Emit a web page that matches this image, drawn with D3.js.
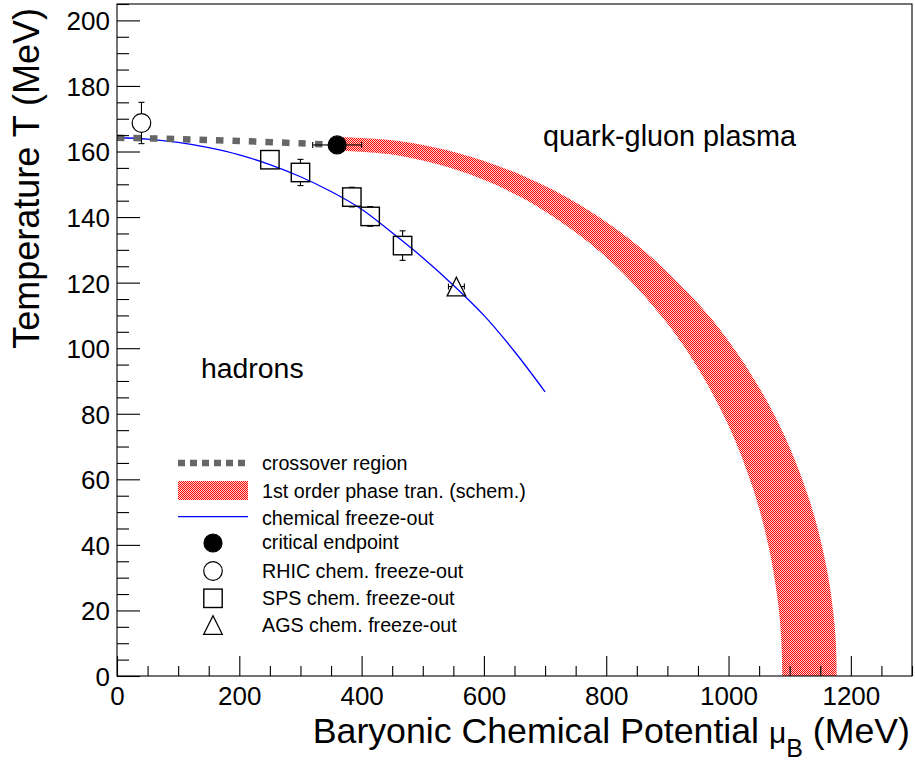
<!DOCTYPE html>
<html>
<head>
<meta charset="utf-8">
<script src="https://cdn.jsdelivr.net/npm/d3@7"></script>
<style>
  html, body { margin: 0; padding: 0; background: #fff; }
  svg { display: block; font-family: "Liberation Sans", Arial, Helvetica, sans-serif; }
</style>
</head>
<body>
<svg id="chart" width="915" height="764"></svg>
<script>
// ---- data (μ_B and T in MeV) ----
const xTickValues = [0, 200, 400, 600, 800, 1000, 1200];
const xTickLabels = ["0", "200", "400", "600", "800", "1000", "1200"];
const yTickValues = [0, 20, 40, 60, 80, 100, 120, 140, 160, 180, 200];
const yTickLabels = ["0", "20", "40", "60", "80", "100", "120", "140", "160", "180", "200"];

// crossover region (lattice), ends at the critical endpoint
const crossMu = [0, 100, 200, 300, 360];
const crossT  = [164.2, 163.8, 163.2, 162.5, 162];

// schematic first-order transition band: outer and inner edges
const bandOuterMu = [360, 460, 560, 660, 760, 860, 960, 1010, 1060, 1100, 1130, 1150, 1165, 1173, 1176, 1177];
const bandOuterT  = [164.4, 163.2, 159.4, 152.9, 143.4, 130.0, 111.6, 99.6, 84.8, 69.7, 54.9, 41.9, 28.1, 16.3, 8.1, 0];
const bandInnerMu = [360, 460, 560, 660, 760, 830, 900, 950, 1000, 1040, 1065, 1080, 1086, 1088];
const bandInnerT  = [160.3, 158.8, 154.1, 146.1, 133.9, 122.4, 107.5, 93.9, 76.4, 57.2, 40.0, 23.7, 11.9, 0];

// chemical freeze-out curve
const freezeMu = [0, 50, 100, 150, 200, 250, 300, 350, 400, 450, 500, 550, 600, 650, 700];
const freezeT  = [164.2, 163.8, 162.8, 161.2, 159, 156, 152.3, 147.8, 142.4, 135.2, 127.6, 119.2, 110, 99, 86.7];

// critical endpoint
const cepMu = [360], cepT = [162], cepMuErr = [40];
// RHIC chemical freeze-out
const rhicMu = [40], rhicT = [168.7], rhicTErr = [6.3];
// SPS chemical freeze-out
const spsMu = [250, 300, 384, 414, 467];
const spsT  = [157.5, 153.6, 146.1, 140.2, 131.3];
const spsTErr = [0, 4, 3, 3, 4.5];
// AGS chemical freeze-out
const agsMu = [555], agsT = [118.8], agsMuErr = [13];

// ---- layout ----
const svg = d3.select("#chart");
const L = 117, R = 912, T0 = 4, B = 676;
const x = d3.scaleLinear().domain([0, 1300]).range([L, R]);
const y = d3.scaleLinear().domain([0, 205]).range([B, T0]);

const defs = svg.append("defs");
const pat = defs.append("pattern").attr("id", "stipple")
  .attr("width", 2).attr("height", 2).attr("patternUnits", "userSpaceOnUse");
pat.append("rect").attr("width", 2).attr("height", 2).attr("fill", "#ffd2d2");
pat.append("rect").attr("width", 1).attr("height", 1).attr("fill", "#ff0000");
pat.append("rect").attr("x", 1).attr("y", 1).attr("width", 1).attr("height", 1).attr("fill", "#ff0000");

defs.append("clipPath").attr("id", "plotclip").append("rect")
  .attr("x", L).attr("y", T0).attr("width", R - L).attr("height", B - T0);

const plot = svg.append("g").attr("clip-path", "url(#plotclip)");

const zip = (a, b) => a.map((v, i) => [v, b[i]]);
const line = d3.line().x(d => x(d[0])).y(d => y(d[1])).curve(d3.curveCatmullRom.alpha(0.5));

// first-order band
const outerPts = zip(bandOuterMu, bandOuterT);
const innerPts = zip(bandInnerMu, bandInnerT).reverse();
const bandPath = line(outerPts) + "L" + line(innerPts).slice(1) + "Z";
plot.append("path").attr("d", bandPath).attr("fill", "url(#stipple)").attr("stroke", "none");

// freeze-out curve
plot.append("path").attr("d", line(zip(freezeMu, freezeT)))
  .attr("fill", "none").attr("stroke", "#0000ff").attr("stroke-width", 1.3);

// crossover
plot.append("path").attr("d", line(zip(crossMu, crossT)))
  .attr("fill", "none").attr("stroke", "#666666").attr("stroke-width", 6.5)
  .attr("stroke-dasharray", "7.5,9");

// ---- error bars (drawn outside the marker) ----
const eb = svg.append("g").attr("stroke", "#000").attr("stroke-width", 1.1).attr("fill", "none");
const CAP = 3;
function vErr(mu, t, err, half) {
  const cx = x(mu), top = y(t + err), bot = y(t - err), cy = y(t);
  if (cy - top > half) {
    eb.append("line").attr("x1", cx).attr("x2", cx).attr("y1", top).attr("y2", cy - half);
    eb.append("line").attr("x1", cx - CAP).attr("x2", cx + CAP).attr("y1", top).attr("y2", top);
    eb.append("line").attr("x1", cx).attr("x2", cx).attr("y1", cy + half).attr("y2", bot);
    eb.append("line").attr("x1", cx - CAP).attr("x2", cx + CAP).attr("y1", bot).attr("y2", bot);
  } else if (err > 0) {
    eb.append("line").attr("x1", cx - CAP).attr("x2", cx + CAP).attr("y1", top).attr("y2", top);
    eb.append("line").attr("x1", cx - CAP).attr("x2", cx + CAP).attr("y1", bot).attr("y2", bot);
  }
}
function hErr(mu, t, err, half) {
  const cy = y(t), lft = x(mu - err), rgt = x(mu + err), cx = x(mu);
  eb.append("line").attr("x1", lft).attr("x2", cx - half).attr("y1", cy).attr("y2", cy);
  eb.append("line").attr("x1", lft).attr("x2", lft).attr("y1", cy - CAP).attr("y2", cy + CAP);
  eb.append("line").attr("x1", cx + half).attr("x2", rgt).attr("y1", cy).attr("y2", cy);
  eb.append("line").attr("x1", rgt).attr("x2", rgt).attr("y1", cy - CAP).attr("y2", cy + CAP);
}
rhicMu.forEach((m, i) => vErr(m, rhicT[i], rhicTErr[i], 9.5));
spsMu.forEach((m, i) => vErr(m, spsT[i], spsTErr[i], 9.3));
cepMu.forEach((m, i) => hErr(m, cepT[i], cepMuErr[i], 9));
agsMu.forEach((m, i) => hErr(m, agsT[i], agsMuErr[i], 4.7));

// ---- markers ----
const mk = svg.append("g");
function circle(g, cx, cy, filled) {
  g.append("circle").attr("cx", cx).attr("cy", cy).attr("r", filled ? 9 : 9.3)
    .attr("fill", filled ? "#000" : "none").attr("stroke", "#000").attr("stroke-width", 1.2);
}
function square(g, cx, cy) {
  g.append("rect").attr("x", cx - 9.2).attr("y", cy - 9.2).attr("width", 18.4).attr("height", 18.4)
    .attr("fill", "none").attr("stroke", "#000").attr("stroke-width", 1.4);
}
function triangle(g, cx, cy) {
  const h = 18.6, w = 18.6;
  g.append("path").attr("d", `M${cx},${cy - h / 2}L${cx + w / 2},${cy + h / 2}L${cx - w / 2},${cy + h / 2}Z`)
    .attr("fill", "none").attr("stroke", "#000").attr("stroke-width", 1.3);
}
rhicMu.forEach((m, i) => circle(mk, x(m), y(rhicT[i]), false));
spsMu.forEach((m, i) => square(mk, x(m), y(spsT[i])));
agsMu.forEach((m, i) => triangle(mk, x(m), y(agsT[i])));
cepMu.forEach((m, i) => circle(mk, x(m), y(cepT[i]), true));

// ---- axes ----
const minorX = d3.range(0, 1301, 50).filter(v => v % 200 !== 0);
const minorY = d3.range(0, 206, 5).filter(v => v % 20 !== 0);

const axX = svg.append("g").attr("transform", `translate(0,${B})`);
axX.append("g").call(d3.axisBottom(x).tickValues(xTickValues).tickSize(-20).tickPadding(10.5)
  .tickFormat((d, i) => xTickLabels[i]));
axX.append("g").call(d3.axisBottom(x).tickValues(minorX).tickSize(-10).tickFormat(""));

const axY = svg.append("g").attr("transform", `translate(${L},0)`);
axY.append("g").call(d3.axisLeft(y).tickValues(yTickValues).tickSize(-23).tickPadding(7)
  .tickFormat((d, i) => yTickLabels[i]));
axY.append("g").call(d3.axisLeft(y).tickValues(minorY).tickSize(-12).tickFormat(""));

svg.selectAll(".domain").remove();
svg.selectAll(".tick line").attr("stroke", "#000").attr("stroke-width", 1.1);
svg.selectAll(".tick text").attr("font-size", 26).attr("fill", "#000")
  .attr("font-family", "'Liberation Sans', Arial, sans-serif");
axY.selectAll(".tick text").attr("dy", "0.36em");

// frame
svg.append("rect").attr("x", L).attr("y", T0).attr("width", R - L).attr("height", B - T0)
  .attr("fill", "none").attr("stroke", "#000").attr("stroke-width", 1.1);

// axis titles
const xt = svg.append("text").attr("x", 910).attr("y", 743).attr("text-anchor", "end")
  .attr("font-size", 35.7).attr("fill", "#000");
xt.append("tspan").text("Baryonic Chemical Potential ");
xt.append("tspan").attr("font-size", 30).text("μ");
xt.append("tspan").attr("font-size", 25).attr("dy", 14).text("B");
xt.append("tspan").attr("dy", -14).text(" (MeV)");

svg.append("text").attr("transform", "translate(39,8) rotate(-90)").attr("text-anchor", "end")
  .attr("font-size", 36).attr("fill", "#000").text("Temperature T (MeV)");

// region labels
svg.append("text").attr("x", 201).attr("y", 378).attr("font-size", 28.4).text("hadrons");
svg.append("text").attr("x", 543).attr("y", 146).attr("font-size", 28.8).text("quark-gluon plasma");

// ---- legend ----
const lg = svg.append("g").attr("font-size", 19.7).attr("fill", "#000");
const sx0 = 178, sx1 = 248, scx = 213, tx = 262;
lg.append("line").attr("x1", sx0).attr("x2", sx1).attr("y1", 463).attr("y2", 463)
  .attr("stroke", "#666666").attr("stroke-width", 6.5).attr("stroke-dasharray", "7,5");
lg.append("text").attr("x", tx).attr("y", 469.5).text("crossover region");

lg.append("rect").attr("x", sx0).attr("y", 481).attr("width", sx1 - sx0).attr("height", 19)
  .attr("fill", "url(#stipple)");
lg.append("text").attr("x", tx).attr("y", 497.5).text("1st order phase tran. (schem.)");

lg.append("line").attr("x1", sx0).attr("x2", sx1).attr("y1", 516.7).attr("y2", 516.7)
  .attr("stroke", "#0000ff").attr("stroke-width", 1.3);
lg.append("text").attr("x", tx).attr("y", 525).text("chemical freeze-out");

circle(lg, scx, 543, true);
lg.append("text").attr("x", tx).attr("y", 549).text("critical endpoint");
circle(lg, scx, 571, false);
lg.append("text").attr("x", tx).attr("y", 577.7).text("RHIC chem. freeze-out");
square(lg, scx, 598.3);
lg.append("text").attr("x", tx).attr("y", 605).text("SPS chem. freeze-out");
triangle(lg, scx, 625);
lg.append("text").attr("x", tx).attr("y", 632.3).text("AGS chem. freeze-out");
</script>
</body>
</html>
